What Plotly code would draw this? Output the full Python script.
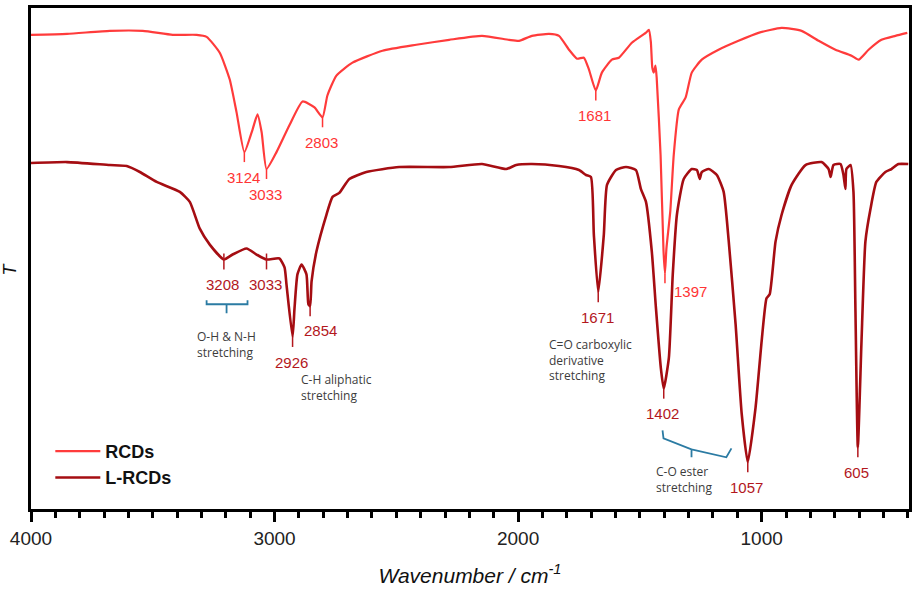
import plotly.graph_objects as go

# FTIR spectra, transmittance in arbitrary units (curves offset for clarity)
wn_rcd = [4000, 3852, 3676, 3541, 3418, 3320, 3279, 3225, 3184, 3156, 3124, 3090,
          3070, 3053, 3033, 2992, 2939, 2885, 2836, 2803, 2783, 2746, 2680, 2557,
          2418, 2283, 2148, 2037, 1996, 1943, 1873, 1832, 1791, 1758, 1730, 1709,
          1681, 1656, 1615, 1586, 1533, 1476, 1463, 1455, 1449, 1443, 1436, 1431,
          1415, 1403, 1397, 1391, 1375, 1361, 1340, 1312, 1287, 1246, 1177, 1095,
          1013, 918, 836, 766, 697, 631, 602, 561, 508, 451, 402]
t_rcd = [477, 478, 481, 481, 477, 477, 475, 459, 432, 399, 359, 382,
         397, 379, 342, 359, 386, 410, 404, 394, 416, 436, 449, 461,
         467, 472, 476, 472, 471, 476, 478, 476, 462, 453, 454, 442,
         421, 439, 452, 454, 469, 479, 482, 470, 444, 439, 446, 434,
         356, 260, 237, 262, 300, 356, 402, 414, 439, 452, 462, 471,
         479, 484, 481, 471, 462, 456, 452, 462, 472, 476, 479]

wn_lrcd = [4000, 3852, 3676, 3607, 3553, 3484, 3389, 3348, 3307, 3266, 3208, 3172,
           3115, 3074, 3033, 2980, 2959, 2951, 2926, 2918, 2906, 2889, 2869, 2861,
           2854, 2848, 2828, 2787, 2762, 2734, 2693, 2623, 2488, 2283, 2148, 2049,
           2008, 1943, 1832, 1750, 1721, 1701, 1689, 1671, 1648, 1635, 1598, 1557,
           1516, 1496, 1475, 1451, 1434, 1414, 1402, 1381, 1365, 1348, 1320, 1287,
           1266, 1254, 1246, 1217, 1184, 1156, 1135, 1107, 1082, 1057, 1025, 1000,
           980, 967, 943, 918, 877, 820, 754, 725, 717, 705, 676, 664,
           656, 652, 635, 623, 615, 605, 590, 574, 553, 529, 492, 467,
           438, 398]
t_lrcd = [348, 349, 346, 345, 339, 329, 319, 309, 282, 266, 251, 256,
          262, 256, 251, 252, 243, 226, 173, 202, 236, 246, 236, 206,
          204, 229, 259, 296, 314, 318, 332, 339, 344, 344, 347, 342,
          346, 347, 345, 341, 336, 334, 276, 218, 276, 326, 341, 344,
          341, 322, 309, 259, 202, 142, 121, 152, 236, 296, 332, 342,
          341, 332, 339, 342, 336, 319, 269, 186, 96, 47, 102, 169,
          212, 216, 269, 296, 326, 346, 349, 342, 334, 346, 347, 336,
          322, 342, 346, 319, 202, 62, 169, 269, 302, 329, 339, 342,
          347, 347]

# labelled band positions
peaks_rcd = [3124, 3033, 2803, 1681, 1397]
peaks_lrcd = [3208, 3033, 2926, 2854, 1671, 1402, 1057, 605]

# band assignments
assign_text = ["O-H & N-H<br>stretching", "C-H aliphatic<br>stretching",
               "C=O carboxylic<br>derivative<br>stretching", "C-O ester<br>stretching"]
assign_wn = [3328, 2898, 1882, 1444]
assign_t = [165, 122, 150, 30]

c_rcd = "#ff3b3b"
c_lrcd = "#a50d12"
c_lab_rcd = "#ff3535"
c_lab_lrcd = "#b3171d"
c_brace = "#2b7ba3"

fig = go.Figure()
fig.add_trace(go.Scatter(x=wn_rcd, y=t_rcd, mode="lines", name="RCDs",
                         line=dict(color=c_rcd, width=2.2, shape="spline", smoothing=0.5)))
fig.add_trace(go.Scatter(x=wn_lrcd, y=t_lrcd, mode="lines", name="L-RCDs",
                         line=dict(color=c_lrcd, width=2.6, shape="spline", smoothing=0.5)))


def t_at(wns, ts, w):
    return ts[wns.index(w)]


annots = []
shapes = []
# peak markers + labels
shifts = {("rcd", 1397): (26, -18), ("lrcd", 2854): (10, -24)}
for key, peaks, wns, ts, col in [("rcd", peaks_rcd, wn_rcd, t_rcd, c_lab_rcd),
                                 ("lrcd", peaks_lrcd, wn_lrcd, t_lrcd, c_lab_lrcd)]:
    for p in peaks:
        tv = t_at(wns, ts, p)
        top = tv + 6 if (key == "lrcd" and p in (3208, 3033)) else tv
        shapes.append(dict(type="line", x0=p, x1=p, y0=top, y1=tv - 10,
                           line=dict(color=col, width=1.5)))
        xs, ys = shifts.get((key, p), (-1, -25))
        annots.append(dict(x=p, y=tv, text=str(p), showarrow=False, xshift=xs, yshift=ys,
                           font=dict(family="Liberation Sans, Arial", size=15, color=col)))

for txt, xw, yt in zip(assign_text, assign_wn, assign_t):
    annots.append(dict(x=xw, y=yt, text=txt, showarrow=False, xanchor="left", align="left",
                       font=dict(family="Open Sans", size=12, color="#3c3c3c")))

# curly braces
shapes.append(dict(type="path", line=dict(color=c_brace, width=1.8),
                   path="M 3279,210 L 3279,206 L 3197,206 L 3197,197 M 3197,206 L 3111,206 L 3111,210"))
shapes.append(dict(type="path", line=dict(color=c_brace, width=1.8),
                   path="M 1407,79 L 1403,71 L 1288,60 L 1288,52 M 1288,60 L 1145,52 L 1124,61"))

annots.append(dict(xref="paper", yref="paper", x=-0.024, y=0.48, xanchor="center",
                   text="<i>T</i>", showarrow=False, textangle=-90,
                   font=dict(family="Liberation Sans, Arial", size=18, color="#111")))

fig.update_layout(
    width=917, height=589,
    margin=dict(l=31, r=6, t=5, b=80),
    paper_bgcolor="white", plot_bgcolor="white",
    showlegend=True,
    legend=dict(x=0.022, y=0.152, xanchor="left", yanchor="top", bgcolor="rgba(0,0,0,0)",
                font=dict(family="Liberation Sans, Arial", size=18, color="#111", weight="bold"),
                itemwidth=45, tracegroupgap=0),
    annotations=annots,
    shapes=shapes,
)
fig.update_xaxes(range=[4000, 395], showgrid=False, zeroline=False,
                 showline=True, linecolor="black", linewidth=3, mirror=True,
                 tick0=0, dtick=1000, ticks="outside", ticklen=10, tickwidth=3, tickcolor="black",
                 minor=dict(dtick=100, ticks="outside", ticklen=6, tickwidth=3, tickcolor="black"),
                 tickfont=dict(family="Liberation Sans, Arial", size=19, color="#222"),
                 title=dict(text="<i>Wavenumber / cm<sup>-1</sup></i>", standoff=21,
                            font=dict(family="Liberation Sans, Arial", size=21, color="#111")))
fig.update_yaxes(range=[0, 504], showgrid=False, zeroline=False, showticklabels=False,
                 showline=True, linecolor="black", linewidth=3, mirror=True, ticks="")

fig.write_html("out.html", config={"displayModeBar": False},
               post_script="document.body.style.margin='0';")
